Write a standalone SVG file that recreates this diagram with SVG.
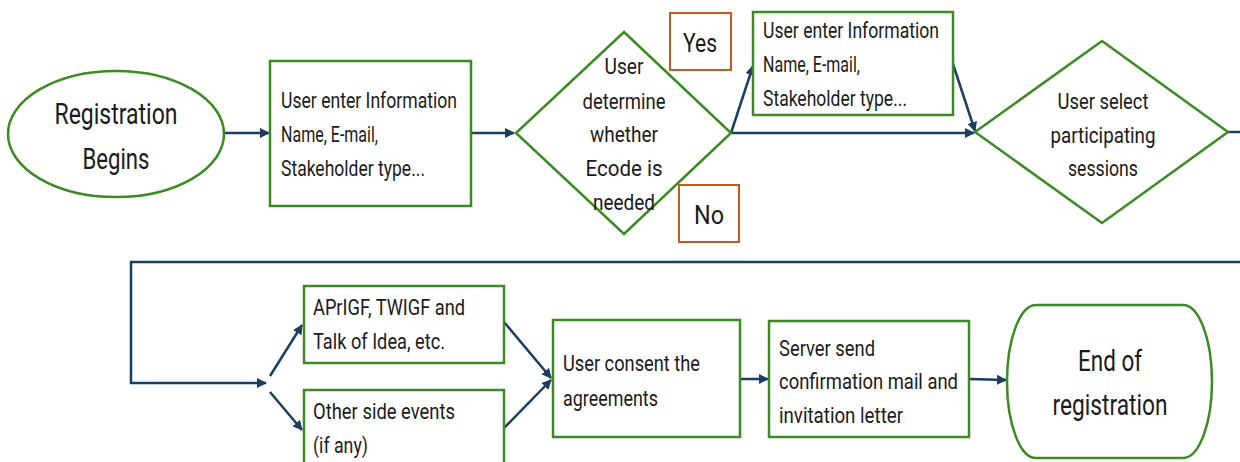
<svg xmlns="http://www.w3.org/2000/svg" width="1240" height="462" viewBox="0 0 1240 462">
<style>
.n{fill:#fff;stroke:#3b8a22;stroke-width:2.5}
.o{fill:#fff;stroke:#c55a1c;stroke-width:2}
.t{font-family:Roboto,"Liberation Sans",sans-serif;font-size:22px;fill:#1a1a1a}
.c{text-anchor:middle}
.big{font-size:29px}
.yn{font-size:26px}
.e{fill:none;stroke:#1b3d60;stroke-width:2.5}
</style>
<defs>
<marker id="ah" viewBox="0 0 10 10" refX="9" refY="5" markerWidth="4" markerHeight="4" orient="auto" markerUnits="strokeWidth">
<path d="M0,0 L10,5 L0,10 z" fill="#1b3d60"/>
</marker>
</defs>
<rect width="1240" height="462" fill="#fff"/>
<g id="connectors">
<line class="e" x1="224" y1="133" x2="269" y2="133" marker-end="url(#ah)"/>
<line class="e" x1="471" y1="133" x2="514" y2="133" marker-end="url(#ah)"/>
<line class="e" x1="731" y1="133" x2="974" y2="133" marker-end="url(#ah)"/>
<line class="e" x1="731" y1="133" x2="753" y2="66" marker-end="url(#ah)"/>
<line class="e" x1="953" y1="64" x2="975" y2="131" marker-end="url(#ah)"/>
<line class="e" x1="1228" y1="132" x2="1240" y2="132"/>
<polyline class="e" points="1240,262 131,262 131,383 266,383" marker-end="url(#ah)"/>
<line class="e" x1="270" y1="376" x2="302" y2="325" marker-end="url(#ah)"/>
<line class="e" x1="270" y1="392" x2="302" y2="430" marker-end="url(#ah)"/>
<line class="e" x1="504" y1="322" x2="551" y2="378" marker-end="url(#ah)"/>
<line class="e" x1="504" y1="428" x2="551" y2="380" marker-end="url(#ah)"/>
<line class="e" x1="740" y1="379" x2="768" y2="379" marker-end="url(#ah)"/>
<line class="e" x1="969" y1="379" x2="1006" y2="380" marker-end="url(#ah)"/>
</g>
<g id="start">
<ellipse class="n" cx="116" cy="134" rx="108" ry="63"/>
<text class="t c big" x="116" y="124" textLength="123" lengthAdjust="spacingAndGlyphs">Registration</text>
<text class="t c big" x="116" y="169" textLength="67" lengthAdjust="spacingAndGlyphs">Begins</text>
</g>
<g id="enter1">
<rect class="n" x="270" y="61" width="201" height="145"/>
<text class="t" x="281" y="108" textLength="176" lengthAdjust="spacingAndGlyphs">User enter Information</text>
<text class="t" x="281" y="142" textLength="97" lengthAdjust="spacingAndGlyphs">Name, E-mail,</text>
<text class="t" x="281" y="176" textLength="144" lengthAdjust="spacingAndGlyphs">Stakeholder type...</text>
</g>
<g id="decision">
<polygon class="n" points="624,32 731,133 624,234 516,133"/>
<text class="t c" x="624" y="74" textLength="39" lengthAdjust="spacingAndGlyphs">User</text>
<text class="t c" x="624" y="109" textLength="83" lengthAdjust="spacingAndGlyphs">determine</text>
<text class="t c" x="624" y="142" textLength="68" lengthAdjust="spacingAndGlyphs">whether</text>
<text class="t c" x="624" y="176" textLength="77" lengthAdjust="spacingAndGlyphs">Ecode is</text>
<text class="t c" x="624" y="210" textLength="62" lengthAdjust="spacingAndGlyphs">needed</text>
</g>
<g id="yes">
<rect class="o" x="670" y="13" width="61" height="57"/>
<text class="t c yn" x="700" y="52" textLength="34" lengthAdjust="spacingAndGlyphs">Yes</text>
</g>
<g id="no">
<rect class="o" x="679" y="185" width="60" height="57"/>
<text class="t c yn" x="709" y="224" textLength="30" lengthAdjust="spacingAndGlyphs">No</text>
</g>
<g id="enter2">
<rect class="n" x="753" y="12" width="200" height="103"/>
<text class="t" x="763" y="38" textLength="176" lengthAdjust="spacingAndGlyphs">User enter Information</text>
<text class="t" x="763" y="72" textLength="97" lengthAdjust="spacingAndGlyphs">Name, E-mail,</text>
<text class="t" x="763" y="106" textLength="144" lengthAdjust="spacingAndGlyphs">Stakeholder type...</text>
</g>
<g id="sessions">
<polygon class="n" points="1102,41 1228,132 1102,223 975,132"/>
<text class="t c" x="1103" y="109" textLength="91" lengthAdjust="spacingAndGlyphs">User select</text>
<text class="t c" x="1103" y="143" textLength="105" lengthAdjust="spacingAndGlyphs">participating</text>
<text class="t c" x="1103" y="176" textLength="70" lengthAdjust="spacingAndGlyphs">sessions</text>
</g>
<g id="aprigf">
<rect class="n" x="304" y="286" width="200" height="77"/>
<text class="t" x="313" y="315" textLength="152" lengthAdjust="spacingAndGlyphs">APrIGF, TWIGF and</text>
<text class="t" x="313" y="349" textLength="132" lengthAdjust="spacingAndGlyphs">Talk of Idea, etc.</text>
</g>
<g id="side">
<rect class="n" x="304" y="390" width="200" height="80"/>
<text class="t" x="313" y="419" textLength="142" lengthAdjust="spacingAndGlyphs">Other side events</text>
<text class="t" x="313" y="453" textLength="55" lengthAdjust="spacingAndGlyphs">(if any)</text>
</g>
<g id="consent">
<rect class="n" x="553" y="320" width="187" height="117"/>
<text class="t" x="563" y="371" textLength="137" lengthAdjust="spacingAndGlyphs">User consent the</text>
<text class="t" x="563" y="406" textLength="95" lengthAdjust="spacingAndGlyphs">agreements</text>
</g>
<g id="server">
<rect class="n" x="769" y="321" width="200" height="116"/>
<text class="t" x="779" y="356" textLength="96" lengthAdjust="spacingAndGlyphs">Server send</text>
<text class="t" x="779" y="389" textLength="179" lengthAdjust="spacingAndGlyphs">confirmation mail and</text>
<text class="t" x="779" y="423" textLength="124" lengthAdjust="spacingAndGlyphs">invitation letter</text>
</g>
<g id="end">
<path class="n" d="M1036,305 H1183 A29,76.5 0 0 1 1183,458 H1036 A29,76.5 0 0 1 1036,305 Z"/>
<text class="t c big" x="1110" y="371" textLength="64" lengthAdjust="spacingAndGlyphs">End of</text>
<text class="t c big" x="1110" y="415" textLength="115" lengthAdjust="spacingAndGlyphs">registration</text>
</g>
</svg>
